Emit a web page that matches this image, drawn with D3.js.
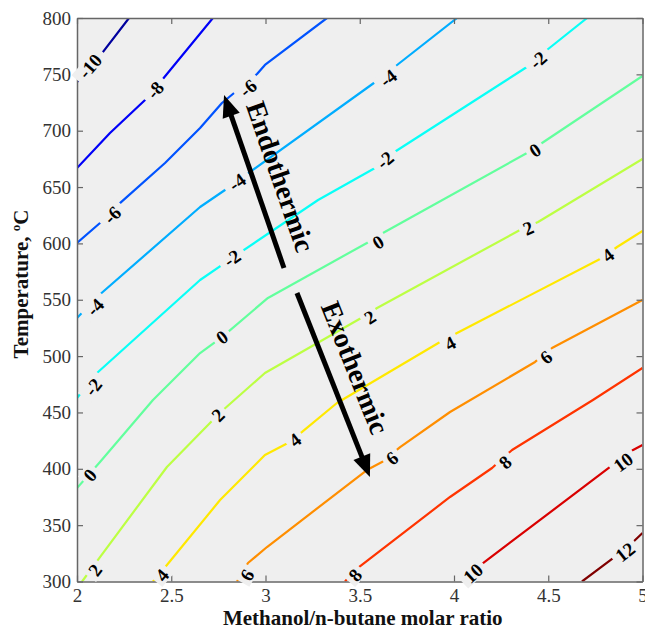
<!DOCTYPE html>
<html>
<head>
<meta charset="utf-8">
<script src="https://cdn.jsdelivr.net/npm/d3@7"></script>
<style>
  html, body { margin: 0; padding: 0; background: #ffffff; }
  svg { display: block; }
</style>
</head>
<body>
<script>
// ---------- data ----------
const xTicks = [2, 2.5, 3, 3.5, 4, 4.5, 5];
const yTicks = [300, 350, 400, 450, 500, 550, 600, 650, 700, 750, 800];
const xTickLabels = ["2", "2.5", "3", "3.5", "4", "4.5", "5"];
const yTickLabels = ["300", "350", "400", "450", "500", "550", "600", "650", "700", "750", "800"];
const levels = [-10, -8, -6, -4, -2, 0, 2, 4, 6, 8, 10, 12];

// contour polylines: [molar ratio, temperature]
const contourM10 = [[2.000,743.2],[2.133,768.9],[2.276,800]];
const contourM8  = [[2.000,666.9],[2.175,698.0],[2.361,727.2],[2.451,745.0],[2.721,800]];
const contourM6  = [[2.000,600.4],[2.122,618.1],[2.228,635.8],[2.467,671.3],[2.653,702.4],[2.769,724.6],[2.955,750.3],[2.997,758.3],[3.326,800]];
const contourM4  = [[2.000,533.8],[2.106,552.4],[2.653,632.3],[2.785,647.4],[2.918,663.4],[3.597,745.0],[3.698,758.3],[4.016,800]];
const contourM2  = [[2.000,462.8],[2.106,485.0],[2.653,567.5],[2.822,587.0],[3.279,638.5],[3.581,666.9],[3.676,680.2],[4.403,758.3],[4.493,771.6],[4.706,800]];
const contour0   = [[2.000,382.9],[2.122,406.0],[2.403,461.0],[2.653,502.7],[2.769,516.9],[3.013,551.6],[3.538,600.4],[3.623,609.2],[4.387,680.2],[4.467,689.1],[5.000,748.5]];
const contourP2  = [[2.027,300],[2.122,321.7],[2.477,401.6],[2.721,443.3],[2.775,452.2],[2.997,485.0],[3.517,534.7],[3.592,542.7],[4.350,611.9],[4.446,619.0],[5.000,674.9]];
const contourP4  = [[2.403,300],[2.477,314.6],[2.759,372.3],[2.997,412.2],[3.119,422.9],[3.194,432.7],[3.379,458.4],[3.926,512.5],[4.016,520.5],[4.785,587.0],[4.865,596.8],[5.000,611.0]];
const contourP6  = [[2.849,300],[2.907,316.4],[3.008,330.6],[3.538,398.9],[3.618,406.0],[3.714,419.3],[3.979,450.4],[4.430,494.8],[4.520,507.2],[5.000,549.8]];
const contourP8  = [[3.422,300],[3.475,310.2],[3.979,375.0],[4.202,400.7],[4.308,416.7],[4.737,461.0],[5.000,489.4]];
const contourP10 = [[4.048,300],[4.154,316.4],[4.828,401.6],[4.950,416.7],[5.000,421.1]];
const contourP12 = [[4.679,300],[4.844,320.8],[4.950,335.0],[5.000,343.0]];

const contourLines = [
  [-10, contourM10], [-8, contourM8], [-6, contourM6], [-4, contourM4], [-2, contourM2],
  [0, contour0], [2, contourP2], [4, contourP4], [6, contourP6], [8, contourP8],
  [10, contourP10], [12, contourP12]
];

// contour labels: [level, molar ratio, temperature]
const contourLabels = [
  [-10, 2.069, 757.4],
  [-8, 2.414, 736.1],
  [-6, 2.186, 625.2], [-6, 2.907, 737.9],
  [-4, 2.095, 543.6], [-4, 2.849, 654.5], [-4, 3.650, 746.8],
  [-2, 2.085, 472.6], [-2, 2.822, 587.0], [-2, 3.634, 674.0], [-2, 4.446, 762.7],
  [0, 2.069, 394.5], [0, 2.769, 516.9], [0, 3.597, 601.2], [0, 4.430, 682.9],
  [2, 2.095, 310.2], [2, 2.748, 447.7], [2, 3.554, 534.7], [2, 4.393, 613.7],
  [4, 2.451, 305.8], [4, 3.156, 425.6], [4, 3.979, 511.6], [4, 4.817, 589.7],
  [6, 2.902, 305.8], [6, 3.671, 409.6], [6, 4.488, 499.2],
  [8, 3.475, 305.8], [8, 4.271, 406.0],
  [10, 4.101, 307.5], [10, 4.897, 406.0],
  [12, 4.907, 326.2]
];

// annotation arrows: [text, tail ratio, tail T, tip ratio, tip T]
const arrowNotes = [
  ["Endothermic", 3.098, 578.2, 2.780, 731.7],
  ["Exothermic", 3.167, 556.0, 3.554, 392.7]
];

const xTitle = "Methanol/n-butane molar ratio";
const yTitle = "Temperature, ";

// ---------- layout ----------
const W = 645, H = 630;
const L = 77, T = 18, R = 642.5, B = 581.5;
const plotBg = "#efefef";
const serif = "'Liberation Serif', 'Times New Roman', serif";

const x = d3.scaleLinear().domain([2, 5]).range([L, R]);
const y = d3.scaleLinear().domain([300, 800]).range([B, T]);

function jet(t) {
  const c = v => Math.max(0, Math.min(1, v));
  const r = c(Math.min(4 * t - 1.5, -4 * t + 4.5));
  const g = c(Math.min(4 * t - 0.5, -4 * t + 3.5));
  const b = c(Math.min(4 * t + 0.5, -4 * t + 2.5));
  return d3.rgb(r * 255, g * 255, b * 255).formatHex();
}
const tScale = d3.scaleLinear().domain([-10, 12]).range([0.03, 1.0]);
const color = v => jet(tScale(v));

const svg = d3.select("body").append("svg").attr("width", W).attr("height", H);
svg.append("rect").attr("width", W).attr("height", H).attr("fill", "#fff");
svg.append("defs").append("clipPath").attr("id", "clip")
  .append("rect").attr("x", L).attr("y", T).attr("width", R - L).attr("height", B - T);

svg.append("rect").attr("x", L).attr("y", T).attr("width", R - L).attr("height", B - T).attr("fill", plotBg);

const plot = svg.append("g").attr("clip-path", "url(#clip)");
const lineGen = d3.line().x(d => x(d[0])).y(d => y(d[1]));

plot.selectAll("path.contour").data(contourLines).join("path")
  .attr("class", "contour")
  .attr("d", d => lineGen(d[1]))
  .attr("fill", "none")
  .attr("stroke", d => color(d[0]))
  .attr("stroke-width", 2.2)
  .attr("stroke-linejoin", "round");

// ---------- axes ----------
const axisColor = "#666";
function styleAxis(g) {
  g.selectAll("path.domain").attr("stroke", axisColor).attr("stroke-width", 1.5);
  g.selectAll(".tick line").attr("stroke", axisColor).attr("stroke-width", 1.2);
  g.selectAll(".tick text").attr("fill", "#333").attr("font-family", serif).attr("font-size", 19);
}
svg.append("g").attr("transform", `translate(0,${B})`)
  .call(d3.axisBottom(x).tickValues(xTicks).tickFormat((d, i) => xTickLabels[i]).tickSize(-6).tickSizeOuter(0).tickPadding(7))
  .call(styleAxis);
svg.append("g").attr("transform", `translate(0,${T})`)
  .call(d3.axisTop(x).tickValues(xTicks).tickFormat("").tickSize(-6).tickSizeOuter(0))
  .call(styleAxis);
svg.append("g").attr("transform", `translate(${L},0)`)
  .call(d3.axisLeft(y).tickValues(yTicks).tickFormat((d, i) => yTickLabels[i]).tickSize(-6).tickSizeOuter(0).tickPadding(6))
  .call(styleAxis);
svg.append("g").attr("transform", `translate(${R},0)`)
  .call(d3.axisRight(y).tickValues(yTicks).tickFormat("").tickSize(-6).tickSizeOuter(0))
  .call(styleAxis);

// ---------- contour labels ----------
function localAngle(pts, px, py) {
  let best = Infinity, ang = 0;
  for (let i = 0; i < pts.length - 1; i++) {
    const ax = x(pts[i][0]), ay = y(pts[i][1]);
    const bx = x(pts[i + 1][0]), by = y(pts[i + 1][1]);
    const dx = bx - ax, dy = by - ay;
    const len2 = dx * dx + dy * dy;
    let t = ((px - ax) * dx + (py - ay) * dy) / len2;
    t = Math.max(0, Math.min(1, t));
    const qx = ax + t * dx, qy = ay + t * dy;
    const dist = (px - qx) ** 2 + (py - qy) ** 2;
    if (dist < best) { best = dist; ang = Math.atan2(dy, dx) * 180 / Math.PI; }
  }
  if (ang > 90) ang -= 180;
  if (ang < -90) ang += 180;
  return ang;
}
const lineByLevel = new Map(contourLines);
const labelG = svg.append("g");
contourLabels.forEach(([lv, lx, lt]) => {
  const px = x(lx), py = y(lt);
  const ang = localAngle(lineByLevel.get(lv), px, py);
  const g = labelG.append("g").attr("transform", `translate(${px},${py}) rotate(${ang})`);
  const txt = String(lv);
  const tw = txt.length * 10;
  g.append("rect").attr("x", -tw / 2 - 4).attr("y", -8).attr("width", tw + 8).attr("height", 16)
    .attr("fill", plotBg);
  g.append("text").attr("text-anchor", "middle").attr("dy", "0.35em")
    .attr("font-family", serif).attr("font-weight", "bold").attr("font-size", 19)
    .attr("fill", "#000").text(txt);
});

// ---------- arrows ----------
const arrowG = svg.append("g");
arrowNotes.forEach(([label, x0, t0, x1, t1], i) => {
  const ax = x(x0), ay = y(t0), bx = x(x1), by = y(t1);
  const dx = bx - ax, dy = by - ay, len = Math.hypot(dx, dy);
  const ux = dx / len, uy = dy / len;
  const hl = 22, hw = 9;
  const baseX = bx - ux * hl, baseY = by - uy * hl;
  arrowG.append("line").attr("x1", ax).attr("y1", ay).attr("x2", baseX + ux * 2).attr("y2", baseY + uy * 2)
    .attr("stroke", "#000").attr("stroke-width", 5);
  arrowG.append("path")
    .attr("d", `M${bx},${by}L${baseX - uy * hw},${baseY + ux * hw}L${baseX + uy * hw},${baseY - ux * hw}Z`)
    .attr("fill", "#000");
  // text runs downward along the arrow, on its right side
  const sx = ux * (i === 0 ? -1 : 1), sy = uy * (i === 0 ? -1 : 1);
  const ang = Math.atan2(sy, sx) * 180 / Math.PI;
  const mx = (ax + bx) / 2, my = (ay + by) / 2;
  const off = 17, along = i === 0 ? 4 : -8;
  const cx = mx + sy * off + sx * along, cy = my - sx * off + sy * along;
  arrowG.append("text")
    .attr("transform", `translate(${cx},${cy}) rotate(${ang})`)
    .attr("text-anchor", "middle")
    .attr("font-family", serif).attr("font-weight", "bold").attr("font-size", 28)
    .attr("fill", "#000").text(label);
});

// ---------- titles ----------
svg.append("text").attr("x", (L + R) / 2 + 3).attr("y", 625)
  .attr("text-anchor", "middle").attr("font-family", serif).attr("font-weight", "bold")
  .attr("font-size", 21).attr("fill", "#111").text(xTitle);

const yt = svg.append("text").attr("transform", `translate(28,284) rotate(-90)`)
  .attr("text-anchor", "middle").attr("font-family", serif).attr("font-weight", "bold")
  .attr("font-size", 21).attr("fill", "#111");
yt.append("tspan").text(yTitle);
yt.append("tspan").attr("font-size", 13).attr("dy", -8).text("o");
yt.append("tspan").attr("dy", 8).text("C");
</script>
</body>
</html>
